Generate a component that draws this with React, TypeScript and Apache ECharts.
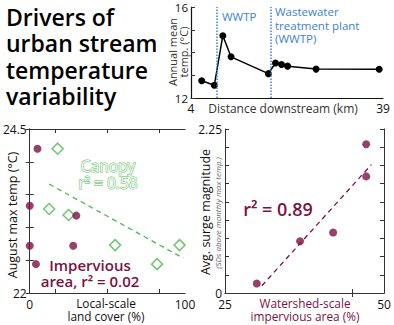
import React, { useEffect, useRef } from "react";
import * as echarts from "echarts";

// Top panel: annual mean temp vs distance downstream
const distKm = [5.95, 8.25, 9.8, 11.3, 18.1, 19.4, 20.5, 21.6, 26.8, 38.3];
const annualTemp = [12.76, 12.56, 14.74, 13.81, 13.07, 13.54, 13.47, 13.4, 13.27, 13.26];
const wwtpKm = [8.7, 18.5];

// Bottom-left: local-scale land cover vs August max temp
const imperviousPct = [5, 0, 30, 0, 28, 4];
const imperviousTemp = [24.2, 23.33, 23.18, 22.72, 22.72, 22.44];
const canopyPct = [18, 12.5, 25, 55, 96.5, 82];
const canopyTemp = [24.2, 23.28, 23.19, 22.73, 22.73, 22.44];
const canopyFitX = [12.5, 99];
const canopyFitY = [23.66, 22.53];

// Bottom-right: watershed-scale impervious vs surge magnitude
const watershedPct = [47.2, 47.2, 42.0, 36.8, 30.0];
const surgeMag = [2.04, 1.6, 0.83, 0.71, 0.13];
const surgeFitX = [30.8, 48.0];
const surgeFitY = [0.1, 1.76];

const MAROON = "#7d1142";
const GREEN = "#4db84d";
const BLUE = "#3d7fd6";
const DARK = "#111";
const FONT = "'Open Sans', 'Noto Sans', sans-serif";

const zip = (a: number[], b: number[]) => a.map((v, i) => [v, b[i]]);

const txt = (x: number, y: number, text: string, font: string, fill: string, extra: any = {}) => ({
  type: "text", x, y,
  style: { text, font, fill, align: "center", verticalAlign: "middle", ...extra },
});

export default function App() {
  const ref = useRef<HTMLDivElement>(null);
  useEffect(() => {
    if (!ref.current) return;
    const chart = echarts.init(ref.current, null, { renderer: "svg" });
    const lbl = { color: DARK, fontSize: 12, fontFamily: FONT, fontWeight: 500 };
    const frameAxisLine = { show: true, lineStyle: { color: "#333", width: 1 } };
    const tickIn = { show: true, inside: true, length: 4, lineStyle: { color: "#333" } };
    chart.setOption({
      animation: false,
      textStyle: { fontFamily: FONT },
      grid: [
        { left: 191, top: 7, width: 192, height: 91 },
        { left: 26, top: 129, width: 159, height: 164 },
        { left: 225, top: 129, width: 159, height: 164 },
      ],
      xAxis: [
        {
          gridIndex: 0, type: "value", min: 4, max: 39,
          axisLine: { show: true, lineStyle: { color: "#111", width: 1.2 } },
          axisTick: { show: false }, splitLine: { show: false },
          axisLabel: { ...lbl, fontSize: 12, margin: 4, customValues: [4, 39] },
        },
        {
          gridIndex: 1, type: "value", min: 0, max: 100, position: "bottom",
          axisLine: frameAxisLine, splitLine: { show: false },
          axisTick: { ...tickIn, customValues: [16.7, 50, 83.3] },
          axisLabel: { ...lbl, margin: 5, customValues: [0, 100] },
        },
        {
          gridIndex: 1, type: "value", min: 0, max: 100, position: "top",
          axisLine: frameAxisLine, splitLine: { show: false },
          axisTick: { ...tickIn, customValues: [16.7, 50, 83.3] },
          axisLabel: { show: false },
        },
        {
          gridIndex: 2, type: "value", min: 25, max: 50, position: "bottom",
          axisLine: frameAxisLine, splitLine: { show: false },
          axisTick: { ...tickIn, customValues: [45] },
          axisLabel: { ...lbl, margin: 5, customValues: [25, 50] },
        },
        {
          gridIndex: 2, type: "value", min: 25, max: 50, position: "top",
          axisLine: frameAxisLine, splitLine: { show: false },
          axisTick: { ...tickIn, customValues: [45] },
          axisLabel: { show: false },
        },
      ],
      yAxis: [
        {
          gridIndex: 0, type: "value", min: 12, max: 16, interval: 1,
          axisLine: { show: true, lineStyle: { color: "#111", width: 1.2 } },
          axisTick: tickIn, splitLine: { show: false },
          axisLabel: { ...lbl, fontSize: 11.5, margin: 3, formatter: (v: number) => (v === 12 || v === 16 ? String(v) : "") },
        },
        {
          gridIndex: 1, type: "value", min: 22, max: 24.5, interval: 0.5, position: "left",
          axisLine: frameAxisLine, axisTick: tickIn, splitLine: { show: false },
          axisLabel: { ...lbl, margin: 3, formatter: (v: number) => (v === 22 || v === 24.5 ? String(v) : "") },
        },
        {
          gridIndex: 1, type: "value", min: 22, max: 24.5, interval: 0.5, position: "right",
          axisLine: frameAxisLine, axisTick: tickIn, splitLine: { show: false },
          axisLabel: { show: false },
        },
        {
          gridIndex: 2, type: "value", min: 0, max: 2.25, interval: 0.25, position: "left",
          axisLine: frameAxisLine, axisTick: tickIn, splitLine: { show: false },
          axisLabel: { ...lbl, margin: 3, formatter: (v: number) => (v === 0 || v === 2.25 ? String(v) : "") },
        },
        {
          gridIndex: 2, type: "value", min: 0, max: 2.25, interval: 0.25, position: "right",
          axisLine: frameAxisLine, axisTick: tickIn, splitLine: { show: false },
          axisLabel: { show: false },
        },
      ],
      series: [
        {
          type: "line", xAxisIndex: 0, yAxisIndex: 0,
          data: zip(distKm, annualTemp),
          symbol: "circle", symbolSize: 7,
          lineStyle: { color: "#000", width: 1.5 },
          itemStyle: { color: "#000" },
          markLine: {
            silent: true, symbol: "none", label: { show: false },
            lineStyle: { color: BLUE, type: "dotted", width: 1.5 },
            data: wwtpKm.map((x) => ({ xAxis: x })),
          },
        },
        {
          type: "line", xAxisIndex: 1, yAxisIndex: 1,
          data: zip(canopyFitX, canopyFitY), symbol: "none",
          lineStyle: { color: GREEN, type: [5, 4], width: 1.3 },
        },
        {
          type: "scatter", xAxisIndex: 1, yAxisIndex: 1,
          data: zip(canopyPct, canopyTemp), symbol: "diamond", symbolSize: 11,
          itemStyle: { color: "#fff", borderColor: GREEN, borderWidth: 1.5 },
        },
        {
          type: "scatter", xAxisIndex: 1, yAxisIndex: 1,
          data: zip(imperviousPct, imperviousTemp), symbol: "circle", symbolSize: 8,
          itemStyle: { color: MAROON },
        },
        {
          type: "line", xAxisIndex: 3, yAxisIndex: 3,
          data: zip(surgeFitX, surgeFitY), symbol: "none",
          lineStyle: { color: MAROON, type: [5, 4], width: 1.3 },
        },
        {
          type: "scatter", xAxisIndex: 3, yAxisIndex: 3,
          data: zip(watershedPct, surgeMag), symbol: "circle", symbolSize: 8,
          itemStyle: { color: MAROON },
        },
      ],
      graphic: [
        {
          type: "text", left: 6, top: 4,
          style: {
            text: "Drivers of\nurban stream\ntemperature\nvariability",
            font: `600 23px ${FONT}`, fill: "#000", lineHeight: 26.3,
          },
        },
        {
          type: "text", x: 222, y: 16,
          style: { text: "WWTP", font: `500 11.5px ${FONT}`, fill: BLUE, verticalAlign: "middle" },
        },
        {
          type: "text", x: 275, y: 5,
          style: {
            text: "Wastewater\ntreatment plant\n(WWTP)", font: `500 11.5px ${FONT}`,
            fill: BLUE, lineHeight: 13.5,
          },
        },
        {
          type: "text", x: 178, y: 52, rotation: Math.PI / 2,
          style: {
            text: "Annual mean\ntemp. (°C)", font: `400 11px ${FONT}`, fill: "#333",
            align: "center", verticalAlign: "middle", lineHeight: 10.5,
          },
        },
        txt(283, 108, "Distance downstream (km)", `400 12px ${FONT}`, "#333"),
        {
          type: "text", x: 12, y: 215, rotation: Math.PI / 2,
          style: { text: "August max temp (°C)", font: `500 12.5px ${FONT}`, fill: DARK, align: "center", verticalAlign: "middle" },
        },
        txt(108, 165.5, "Canopy", `500 15.5px ${FONT}`, "#fff", { stroke: GREEN, lineWidth: 1 }),
        txt(108, 182.5, "r² = 0.58", `500 15.5px ${FONT}`, "#fff", { stroke: GREEN, lineWidth: 1 }),
        txt(90, 264.5, "Impervious", `600 15px ${FONT}`, MAROON),
        txt(90, 281, "area, r² = 0.02", `600 15px ${FONT}`, MAROON),
        txt(106, 302.5, "Local-scale", `500 11.8px ${FONT}`, DARK),
        txt(106, 315.5, "land cover (%)", `500 11.8px ${FONT}`, DARK),
        {
          type: "text", x: 205, y: 212, rotation: Math.PI / 2,
          style: { text: "Avg. surge magnitude", font: `500 12.5px ${FONT}`, fill: DARK, align: "center", verticalAlign: "middle" },
        },
        {
          type: "text", x: 217, y: 213, rotation: Math.PI / 2,
          style: { text: "(SDs above monthly max temp.)", font: `italic 400 8px ${FONT}`, fill: "#666", align: "center", verticalAlign: "middle" },
        },
        txt(278, 209, "r² = 0.89", `600 18px ${FONT}`, MAROON),
        txt(305, 302.5, "Watershed-scale", `500 11.8px ${FONT}`, MAROON),
        txt(305, 315.5, "impervious area (%)", `500 11.8px ${FONT}`, MAROON),
      ],
    });
    return () => chart.dispose();
  }, []);
  return <div ref={ref} style={{ width: 394, height: 325, position: "absolute", left: 0, top: 0, background: "#fff" }} />;
}
